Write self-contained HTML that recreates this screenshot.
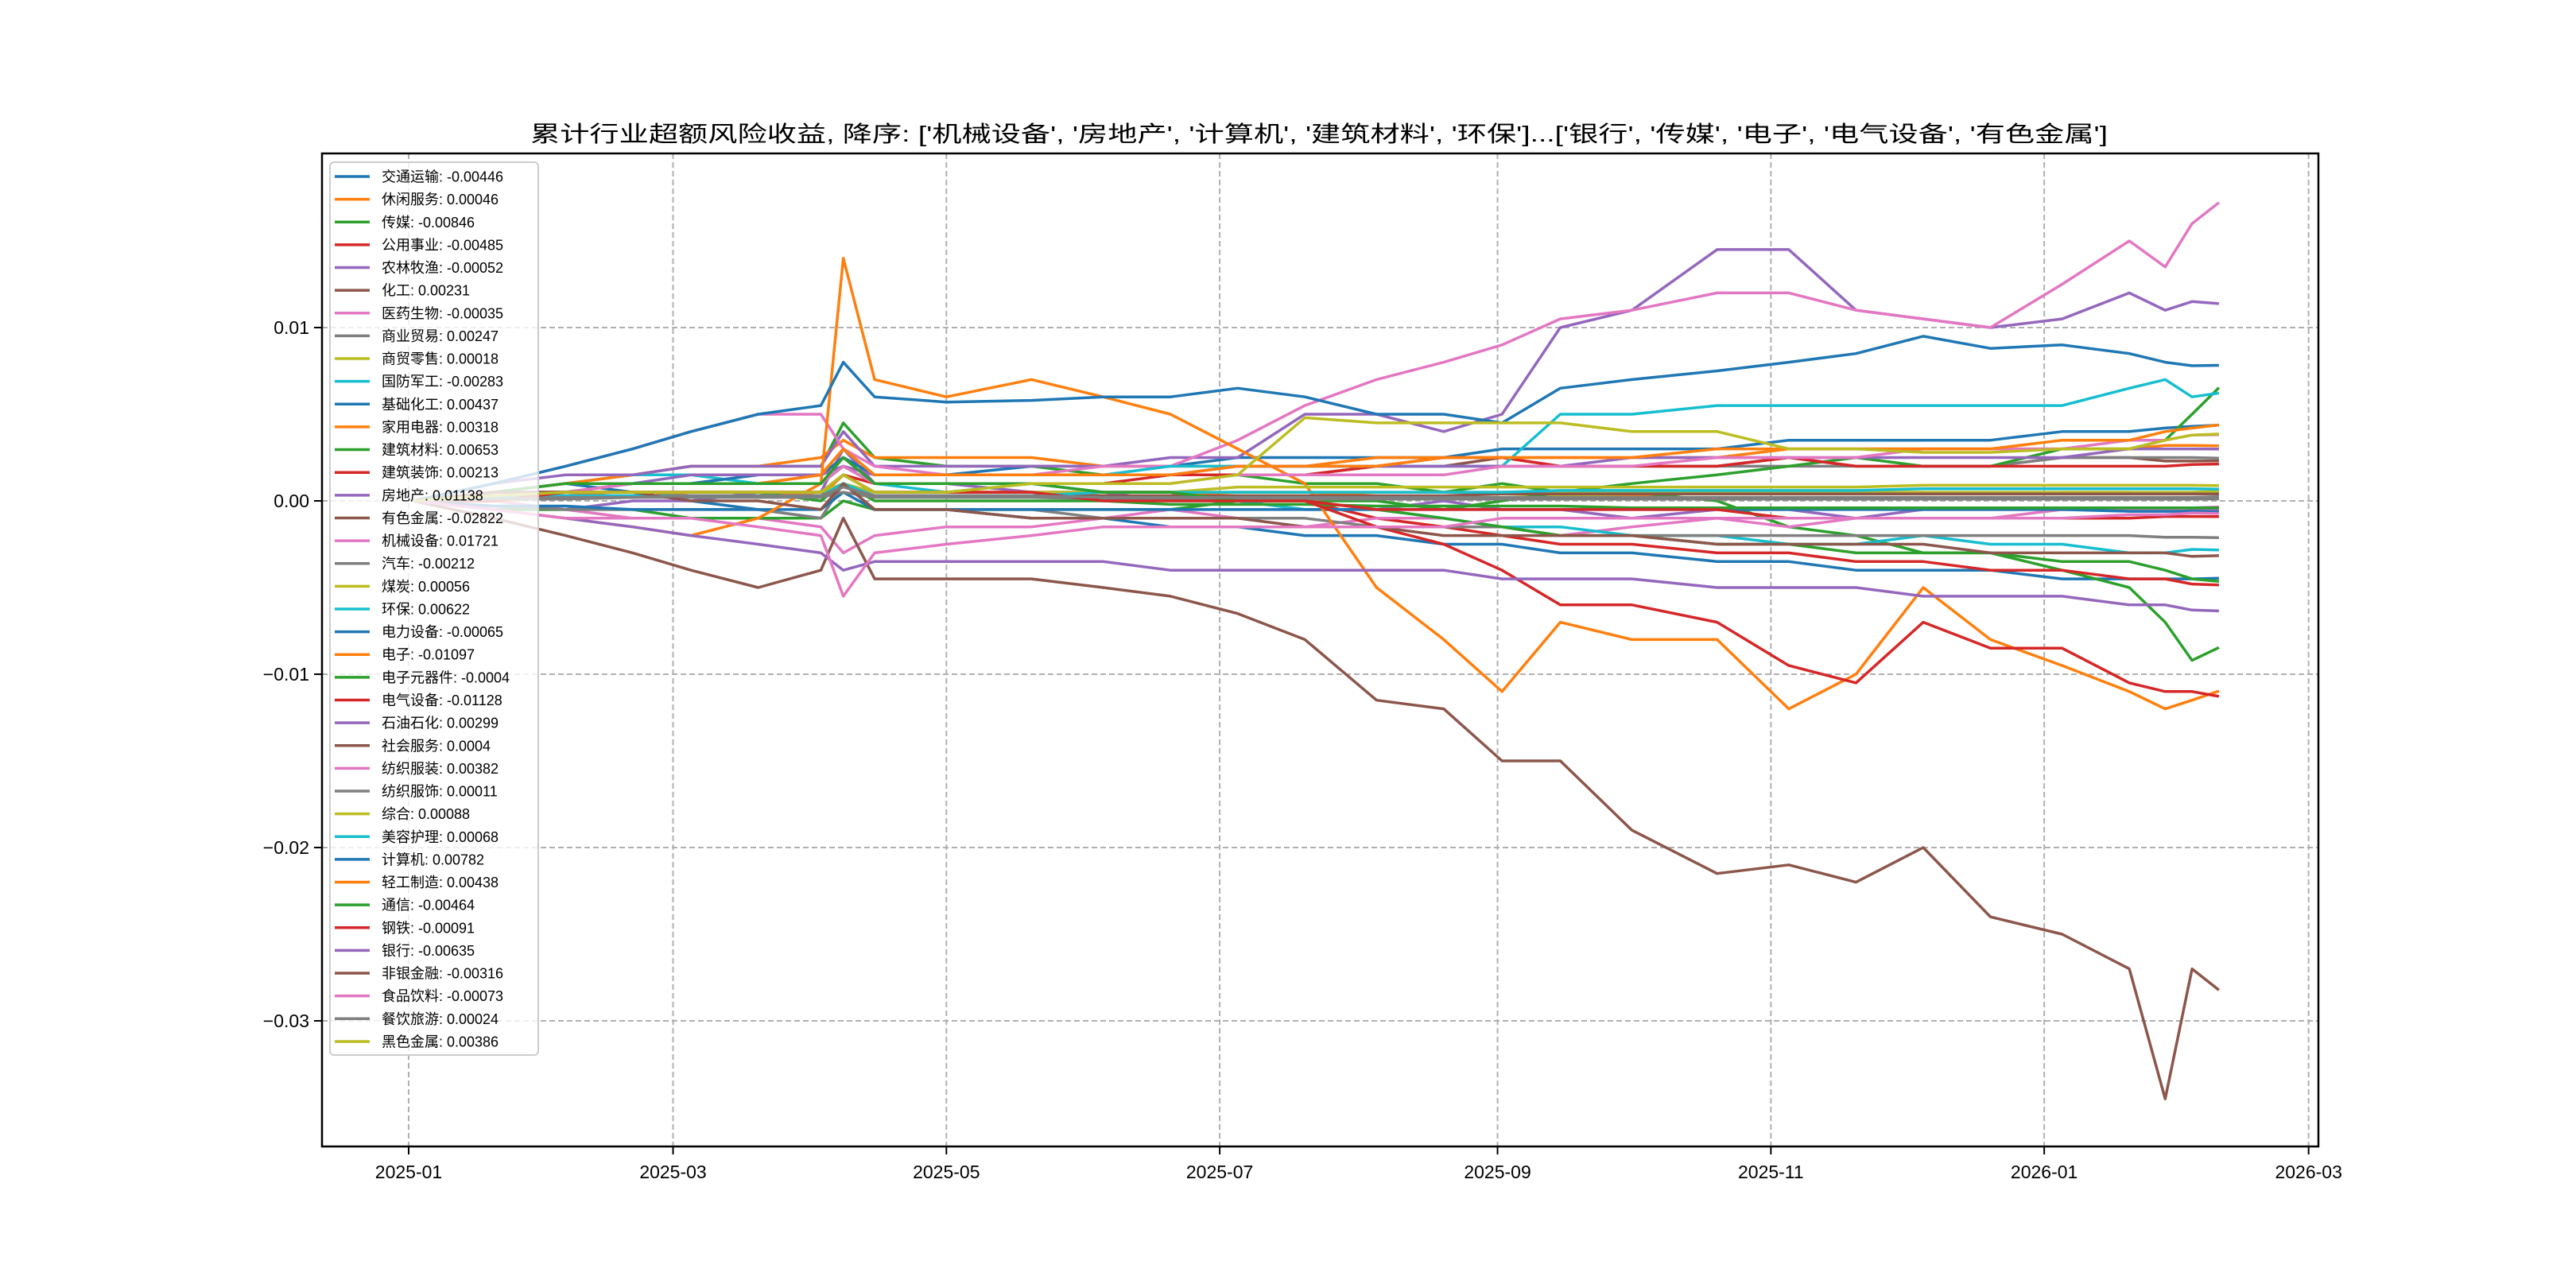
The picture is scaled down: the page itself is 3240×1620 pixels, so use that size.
<!DOCTYPE html>
<html><head><meta charset="utf-8"><style>
html,body{margin:0;padding:0;background:#fff}
svg{display:block}
text{font-family:"WenQuanYi Zen Hei","Liberation Sans","Noto Sans CJK SC",sans-serif}
</style></head><body>
<svg id="chart" width="3240" height="1620" viewBox="0 0 3240 1620" xmlns="http://www.w3.org/2000/svg">
<rect width="3240" height="1620" fill="#fff"/>
<text x="667" y="178" font-size="28" textLength="1984" lengthAdjust="spacingAndGlyphs">累计行业超额风险收益,  降序: ['机械设备', '房地产', '计算机', '建筑材料', '环保']...['银行', '传媒', '电子', '电气设备', '有色金属']</text>
<g id="grid"></g><g id="series"></g><g id="axes"></g><g id="legend"></g>
</svg>
<script>
const dates=["2025-01-02","2025-01-20","2025-02-05","2025-02-20","2025-03-05","2025-03-20","2025-04-03","2025-04-08","2025-04-15","2025-05-01","2025-05-20","2025-06-05","2025-06-20","2025-07-05","2025-07-20","2025-08-05","2025-08-20","2025-09-02","2025-09-15","2025-10-01","2025-10-20","2025-11-05","2025-11-20","2025-12-05","2025-12-20","2026-01-05","2026-01-20","2026-01-28","2026-02-03","2026-02-09"];
const seriesNames=["交通运输","休闲服务","传媒","公用事业","农林牧渔","化工","医药生物","商业贸易","商贸零售","国防军工","基础化工","家用电器","建筑材料","建筑装饰","房地产","有色金属","机械设备","汽车","煤炭","环保","电力设备","电子","电子元器件","电气设备","石油石化","社会服务","纺织服装","纺织服饰","综合","美容护理","计算机","轻工制造","通信","钢铁","银行","非银金融","食品饮料","餐饮旅游","黑色金属"];
const legendValues=["-0.00446","0.00046","-0.00846","-0.00485","-0.00052","0.00231","-0.00035","0.00247","0.00018","-0.00283","0.00437","0.00318","0.00653","0.00213","0.01138","-0.02822","0.01721","-0.00212","0.00056","0.00622","-0.00065","-0.01097","-0.0004","-0.01128","0.00299","0.0004","0.00382","0.00011","0.00088","0.00068","0.00782","0.00438","-0.00464","-0.00091","-0.00635","-0.00316","-0.00073","0.00024","0.00386"];
// values in per-mille (x 0.001)
const seriesValues=[
[0,0.5,1,0.5,0,-0.5,-1,1,-0.5,-0.5,-1,-1,-1.5,-1.5,-2,-2,-2.5,-2.5,-3,-3,-3.5,-3.5,-4,-4,-4,-4.5,-4.5,-4.5,-4.5,-4.46],
[0,0.3,0.5,0.2,0.5,0.5,0.3,1.5,0.5,0.5,0.5,0.3,0.3,0.5,0.5,0.3,0.2,0.5,0.5,0.3,0.5,0.4,0.5,0.5,0.4,0.5,0.5,0.4,0.5,0.46],
[0,0.5,1,1.5,2,2,2,4.5,2.5,2,2,1.5,1.5,1.5,1,1,0.5,1,0.5,0.5,0,-1.5,-2,-3,-3,-4,-5,-7,-9.2,-8.46],
[0,0.5,0.5,1,1,1,1,2,1,1,1,0.5,0.5,0,0,-1,-1.5,-2,-2.5,-2.5,-3,-3,-3.5,-3.5,-4,-4,-4.5,-4.5,-4.8,-4.85],
[0,-0.5,-0.5,0,0,0.5,0.5,3,1,1,0.5,0.5,0,0,-0.5,-0.5,0,-0.5,-0.5,-1,-0.5,-0.5,-1,-0.5,-0.5,-0.5,-0.5,-0.5,-0.5,-0.52],
[0,0.5,0.5,1,1,1.5,1.5,2.5,1.5,1.5,1.5,1.5,1.5,2,2,2,2,2.5,2,2,2,2.5,2,2,2,2.5,2.5,2.3,2.3,2.31],
[0,0,-0.5,-1,-1,-1,-1.5,-3,-2,-1.5,-1.5,-1,-0.5,-1,-1.5,-1,-1,-1.5,-2,-1.5,-1,-1.5,-1,-1,-1,-0.5,-0.5,-0.5,-0.4,-0.35],
[0,0.5,0.5,1,1,1,1.5,2,1.5,1.5,1.5,1.5,1.5,1.5,1.5,2,2,2,2,2,2,2,2,2,2,2.5,2.5,2.5,2.5,2.47],
[0,0,0.2,0.2,0.3,0.2,0.3,1,0.3,0.2,0.2,0.2,0.2,0.3,0.3,0.2,0.2,0.2,0.3,0.2,0.2,0.2,0.2,0.2,0.2,0.2,0.2,0.2,0.2,0.18],
[0,0.5,1,1.5,1.5,1,1,2,1,0.5,1,0.5,0.5,0,-0.5,-0.5,-1,-1.5,-1.5,-2,-2,-2.5,-2.5,-2,-2.5,-2.5,-3,-3,-2.8,-2.83],
[0,0.5,0.5,1,1,1.5,1.5,2.5,1.5,1.5,2,2,2,2.5,2.5,2.5,2.5,3,3,3,3,3.5,3.5,3.5,3.5,4,4,4.2,4.3,4.37],
[0,0.5,1,1.5,2,2,2.5,3.5,2.5,2.5,2.5,2,2,2,2,2.5,2.5,2.5,2.5,2.5,2.5,3,3,3,3,3,3,3.2,3.2,3.18],
[0,-0.5,-0.5,-0.5,-1,-1,-1,0,-0.5,-0.5,-0.5,-0.5,-0.5,0,0,0,-0.5,0,0.5,1,1.5,2,2.5,2,2,3,3,3.5,5,6.53],
[0,0,0.5,0.5,0.5,0.5,0.5,1.5,1,1,1,1,1.5,1.5,1.5,2,2.5,2.5,2,2,2,2.5,2,2,2,2,2,2,2.1,2.13],
[0,1,1.5,1.5,2,2,2,4,2,2,2,2,2.5,2.5,5,5,4,5,10,11,14.5,14.5,11,10.5,10,10.5,12,11,11.5,11.38],
[0,-1,-2,-3,-4,-5,-4,-1,-4.5,-4.5,-4.5,-5,-5.5,-6.5,-8,-11.5,-12,-15,-15,-19,-21.5,-21,-22,-20,-24,-25,-27,-34.5,-27,-28.22],
[0,1,2,3,4,5,5,3,2,1.5,1.5,2,2,3.5,5.5,7,8,9,10.5,11,12,12,11,10.5,10,12.5,15,13.5,16,17.21],
[0,-0.3,-0.5,-0.5,-0.5,-0.5,-1,1,-0.5,-0.5,-0.5,-1,-1,-1,-1,-1.5,-1.5,-1.5,-2,-2,-2,-2,-2,-2,-2,-2,-2,-2.1,-2.1,-2.12],
[0,0.5,0.5,0.5,0.5,0.5,0.5,1,0.5,0.5,0.5,0.5,0.5,0.5,0.5,0.5,0.5,0.5,0.5,0.5,0.5,0.5,0.5,0.5,0.5,0.5,0.5,0.5,0.5,0.56],
[0,0.5,1,1,1.5,1.5,1.5,3,1.5,1.5,1.5,1.5,2,2,2,2,2,2,5,5,5.5,5.5,5.5,5.5,5.5,5.5,6.5,7,6,6.22],
[0,-0.3,-0.3,-0.5,-0.5,-0.5,-0.5,0.5,-0.5,-0.5,-0.5,-0.5,-0.5,-0.5,-0.5,-0.5,-0.5,-0.5,-0.5,-0.5,-0.5,-0.5,-0.5,-0.5,-0.5,-0.5,-0.6,-0.6,-0.6,-0.65],
[0,-0.5,-1,-1.5,-2,-1,1,14,7,6,7,6,5,3,1,-5,-8,-11,-7,-8,-8,-12,-10,-5,-8,-9.5,-11,-12,-11.5,-10.97],
[0,0.2,0.5,0.5,0.5,0.5,0,1,0,0,0,0,-0.2,-0.2,-0.2,-0.3,-0.3,-0.3,-0.3,-0.4,-0.4,-0.4,-0.4,-0.4,-0.4,-0.4,-0.4,-0.4,-0.4,-0.4],
[0,0.5,0.5,0.5,0.5,0.5,0.5,1.5,0.5,0.5,0.5,0.5,0.5,0,0,-1.5,-2.5,-4,-6,-6,-7,-9.5,-10.5,-7,-8.5,-8.5,-10.5,-11,-11,-11.28],
[0,0.5,1,1,1.5,1.5,1.5,2,1.5,1.5,1.5,1.5,1.5,2,2,2,2,2,2,2.5,2.5,2.5,2.5,2.5,2.5,2.5,3,3,3,2.99],
[0,0.2,0.3,0.3,0.3,0.3,0.3,0.8,0.3,0.3,0.3,0.3,0.3,0.3,0.3,0.3,0.3,0.4,0.4,0.4,0.4,0.4,0.4,0.4,0.4,0.4,0.4,0.4,0.4,0.4],
[0,0.5,0.5,1,1,1,1,2,1,1,1,1,1,1.5,1.5,1.5,1.5,2,2,2,2.5,2.5,2.5,3,3,3,3.5,3.5,3.8,3.82],
[0,0.1,0.1,0.2,0.2,0.2,0.2,0.5,0.2,0.2,0.2,0.1,0.1,0.1,0.1,0.1,0.1,0.1,0.1,0.1,0.1,0.1,0.1,0.1,0.1,0.1,0.1,0.1,0.1,0.11],
[0,0.3,0.5,0.5,0.5,0.5,0.5,1.5,0.5,0.5,0.5,0.5,0.5,0.8,0.8,0.8,0.8,0.8,0.8,0.8,0.8,0.8,0.8,0.9,0.9,0.9,0.9,0.9,0.9,0.88],
[0,0.2,0.3,0.3,0.3,0.3,0.3,1,0.3,0.3,0.3,0.5,0.5,0.5,0.5,0.5,0.5,0.5,0.6,0.6,0.6,0.6,0.6,0.7,0.7,0.7,0.7,0.7,0.7,0.68],
[0,1,2,3,4,5,5.5,8,6,5.7,5.8,6,6,6.5,6,5,5,4.5,6.5,7,7.5,8,8.5,9.5,8.8,9,8.5,8,7.8,7.82],
[0,0.5,1,1,1,1,1.5,3,1.5,1.5,1.5,1.5,1.5,2,2,2,2.5,2.5,2.5,2.5,3,3,3,3,3,3.5,3.5,4,4.2,4.38],
[0,0.5,1,1,1,1,1,2.5,1,1,1,0.5,0.5,0,0,-0.5,-1,-1.5,-2,-2,-2.5,-2.5,-3,-3,-3,-3.5,-3.5,-4,-4.5,-4.64],
[0,0,0.5,0.5,0.5,0.5,0.5,1.5,0.5,0.5,0.5,0,0,0,0,-0.5,-0.5,-0.5,-0.5,-0.5,-0.5,-1,-1,-1,-1,-1,-1,-0.9,-0.9,-0.91],
[0,-0.5,-1,-1.5,-2,-2.5,-3,-4,-3.5,-3.5,-3.5,-3.5,-4,-4,-4,-4,-4,-4.5,-4.5,-4.5,-5,-5,-5,-5.5,-5.5,-5.5,-6,-6,-6.3,-6.35],
[0,0.5,0.5,0.5,0,0,-0.5,1,-0.5,-0.5,-1,-1,-1,-1,-1.5,-1.5,-2,-2,-2,-2,-2.5,-2.5,-2.5,-2.5,-3,-3,-3,-3,-3.2,-3.16],
[0,-0.5,-1,-1,-1,-1.5,-2,-5.5,-3,-2.5,-2,-1.5,-1.5,-1.5,-1.5,-1.5,-1.5,-1,-1,-1,-1,-1,-1,-1,-1,-1,-0.8,-0.8,-0.7,-0.73],
[0,0.1,0.2,0.2,0.3,0.3,0.3,0.8,0.3,0.3,0.3,0.2,0.2,0.2,0.2,0.2,0.2,0.2,0.2,0.2,0.2,0.2,0.2,0.2,0.2,0.2,0.2,0.2,0.2,0.24],
[0,0.3,0.5,0.5,0.5,0.5,0.5,1.5,0.5,0.5,1,1,1,1.5,4.8,4.5,4.5,4.5,4.5,4,4,3,3,2.8,2.8,3,3,3.5,3.8,3.86]
];
const valueUnit=0.001;
const xTickLabels=["2025-01","2025-03","2025-05","2025-07","2025-09","2025-11","2026-01","2026-03"];
const yTickValues=[0.01,0,-0.01,-0.02,-0.03];
const yTickLabels=["0.01","0.00","\u22120.01","\u22120.02","\u22120.03"];

const palette=["#1f77b4","#ff7f0e","#2ca02c","#d62728","#9467bd","#8c564b","#e377c2","#7f7f7f","#bcbd22","#17becf"];
const NS="http://www.w3.org/2000/svg";
const L=405,R=2916,T=193,B=1442;
const base=Date.UTC(2025,0,1);
function dayOf(s){const p=s.split("-");return (Date.UTC(+p[0],+p[1]-1,+(p[2]||1))-base)/86400000;}
function xs(s){return 514+dayOf(s)*5.636;}
function ys(v){return 630-v*21800;}
function mk(tag,attrs,parent){const e=document.createElementNS(NS,tag);for(const k in attrs)e.setAttribute(k,attrs[k]);parent.appendChild(e);return e;}

const grid=document.getElementById("grid"),axes=document.getElementById("axes"),ser=document.getElementById("series"),leg=document.getElementById("legend");
xTickLabels.forEach(t=>{
  const x=xs(t+"-01");
  const g=mk("line",{x1:x,x2:x,y1:T,y2:B,stroke:"#b0b0b0","stroke-width":2,"stroke-dasharray":"7,4"},grid);
  
  
  const tk=mk("line",{x1:x,x2:x,y1:B,y2:B+10,stroke:"#000","stroke-width":2},axes);
  
  
  const tx=mk("text",{x:x,y:B+40,"font-size":23,"text-anchor":"middle"},axes);
  tx.textContent=t;
  
  
});
yTickValues.forEach((v,i)=>{
  const y=ys(v);
  const g=mk("line",{x1:L,x2:R,y1:y,y2:y,stroke:"#b0b0b0","stroke-width":2,"stroke-dasharray":"7,4"},grid);
  
  
  const tk=mk("line",{x1:L-10,x2:L,y1:y,y2:y,stroke:"#000","stroke-width":2},axes);
  
  
  const tx=mk("text",{x:L-16,y:y+8,"font-size":23,"text-anchor":"end"},axes);
  tx.textContent=yTickLabels[i];
  
  
});
const frame=mk("rect",{x:L,y:T,width:R-L,height:B-T,fill:"none",stroke:"#000","stroke-width":2.5},axes);



seriesValues.forEach((vals,i)=>{
  const pts=vals.map((v,j)=>xs(dates[j]).toFixed(1)+","+ys(v*valueUnit).toFixed(1)).join(" ");
  const pl=mk("polyline",{points:pts,fill:"none",stroke:palette[i%10],"stroke-width":3.5,"stroke-linejoin":"round"},ser);
  
  
});

const lb=mk("rect",{x:415,y:204,width:262,height:1123,rx:5,fill:"#fff","fill-opacity":0.8,stroke:"#cccccc","stroke-width":2},leg);


seriesNames.forEach((n,i)=>{
  const y=222+i*28.63;
  const ln=mk("line",{x1:421,x2:465,y1:y,y2:y,stroke:palette[i%10],"stroke-width":3.5},leg);
  
  
  const t=mk("text",{x:480,y:y+6.5,"font-size":18},leg);
  t.textContent=n+": "+legendValues[i];
  
  
});
</script>
</body></html>
